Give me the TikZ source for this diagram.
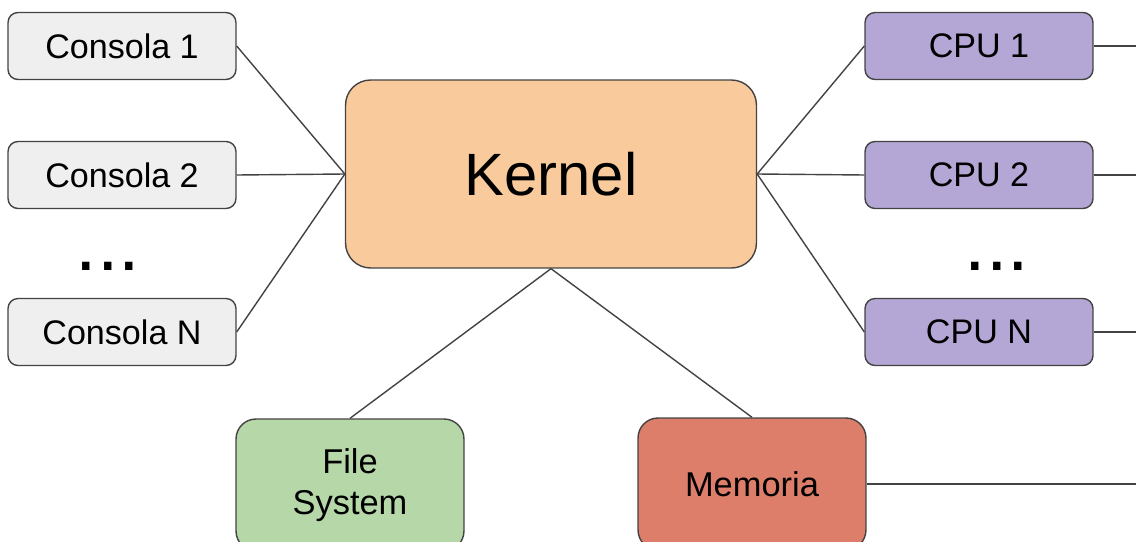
\documentclass[tikz,border=0pt]{standalone}
\usepackage{fontspec}
\setmainfont{Liberation Sans}
\usepackage{tikz}
\definecolor{consolegray}{HTML}{EFEFEF}
\definecolor{kernelorange}{HTML}{F9CB9C}
\definecolor{cpupurple}{HTML}{B4A7D6}
\definecolor{fsgreen}{HTML}{B6D7A8}
\definecolor{memred}{HTML}{DD7E6B}
\definecolor{edgegray}{HTML}{434343}
\tikzset{
  box/.style = {draw = edgegray, line width = 0.8pt, rounded corners = 0.2cm,
    minimum width = 4.56cm, minimum height = 1.34cm, inner sep = 0pt,
    font = \fontsize{19.4}{22}\selectfont},
  bigbox/.style = {draw = edgegray, line width = 0.8pt, rounded corners = 0.4cm,
    minimum width = 4.56cm, minimum height = 2.64cm, inner sep = 0pt,
    align = center, font = \fontsize{19.6}{23.8}\selectfont},
  link/.style = {draw = edgegray, line width = 0.8pt},
  dots/.style = {font = \fontsize{44}{44}\selectfont}
}

\begin{document}
\begin{tikzpicture}[x = 0.02cm, y = -0.02cm]
  \useasboundingbox (0, 0) rectangle (1136, 541);
  \node [box, fill = consolegray] (C1) at (122, 46) {Consola 1};
  \node [box, fill = consolegray] (C2) at (122, 175) {Consola 2};
  \node [dots] (LD) at (108, 266) {...};
  \node [box, fill = consolegray] (CN) at (122, 332) {Consola N};
  \node [box, fill = kernelorange, rounded corners = 0.5cm, minimum width = 8.22cm,
    minimum height = 3.76cm, font = \fontsize{34}{40}\selectfont] (K) at (551, 174) {Kernel};
  \node [box, fill = cpupurple] (P1) at (979, 46) {CPU 1};
  \node [box, fill = cpupurple] (P2) at (979, 175) {CPU 2};
  \node [dots] (RD) at (997, 266) {...};
  \node [box, fill = cpupurple] (PN) at (979, 332) {CPU N};
  \node [bigbox, fill = fsgreen] (FS) at (350, 485) {File\\System};
  \node [bigbox, fill = memred] (M) at (752, 484) {Memoria};
  \coordinate (E1) at (1136, 46);
  \coordinate (E2) at (1136, 175);
  \coordinate (EN) at (1136, 332);
  \coordinate (EM) at (1136, 484);
  \draw [link] (C1.east) -- (K.west);
  \draw [link] (C2.east) -- (K.west);
  \draw [link] (CN.east) -- (K.west);
  \draw [link] (K.east) -- (P1.west);
  \draw [link] (K.east) -- (P2.west);
  \draw [link] (K.east) -- (PN.west);
  \draw [link] (K.south) -- (FS.north);
  \draw [link] (K.south) -- (M.north);
  \draw [link] (P1.east) -- (E1);
  \draw [link] (P2.east) -- (E2);
  \draw [link] (PN.east) -- (EN);
  \draw [link] (M.east) -- (EM);
\end{tikzpicture}
\end{document}
